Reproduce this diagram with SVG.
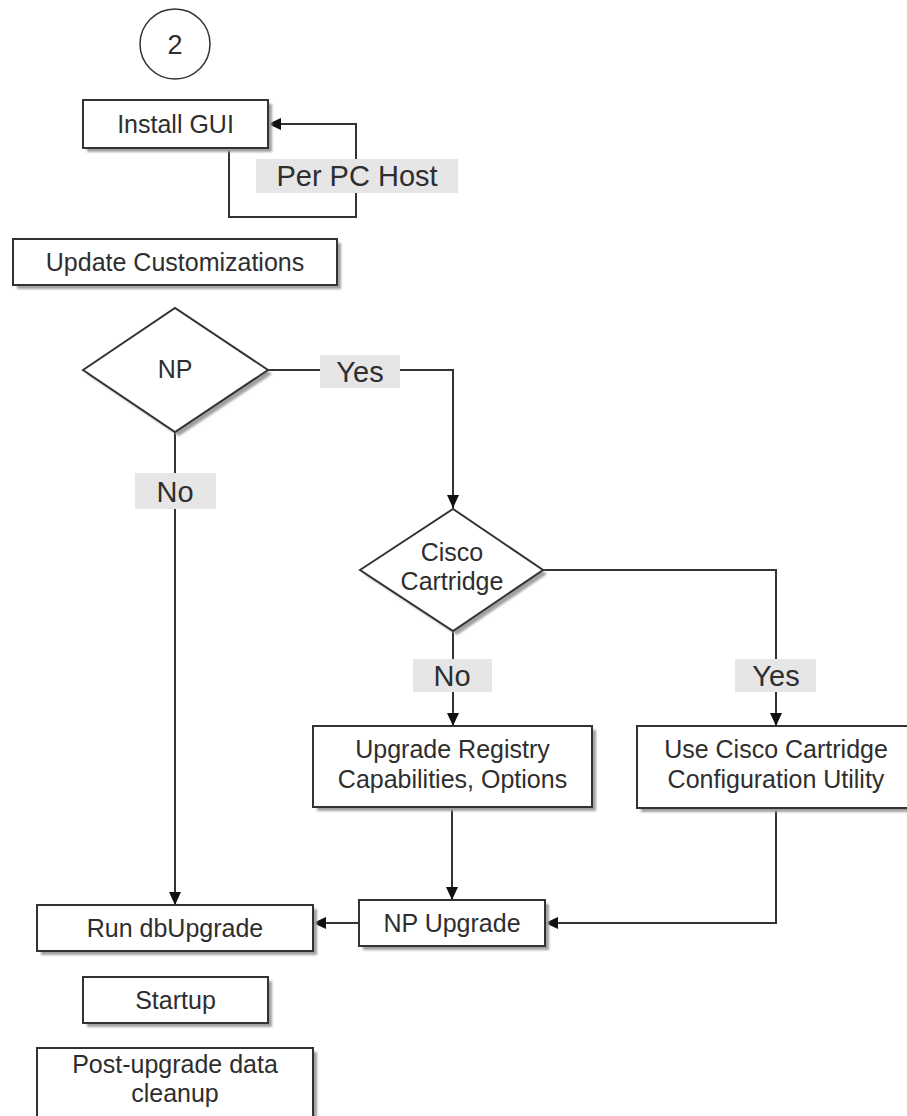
<svg xmlns="http://www.w3.org/2000/svg" width="907" height="1116" viewBox="0 0 907 1116">
<defs>
<marker id="arr" markerUnits="userSpaceOnUse" markerWidth="14" markerHeight="12" refX="13" refY="6" orient="auto">
<path d="M0,0 L13,6 L0,12 z" fill="#111"/>
</marker>
<filter id="blur" x="-10%" y="-10%" width="130%" height="130%"><feGaussianBlur stdDeviation="1.2"/></filter>
</defs>
<style>
.box{fill:#fff;stroke:#333;stroke-width:2}
.shd{fill:#a0a0a0;filter:url(#blur)}
.t{font-family:"Liberation Sans",Arial,sans-serif;font-size:25px;fill:#2e2e2e;text-anchor:middle}
.lt{font-family:"Liberation Sans",Arial,sans-serif;font-size:29px;fill:#2e2e2e;text-anchor:middle}
.lbg{fill:#e6e6e6}
.c{fill:none;stroke:#333;stroke-width:2}
</style>
<rect width="907" height="1116" fill="#fff"/>

<g id="connectors">
<path class="c" d="M229,148 V217 H356 V124 H268" marker-end="url(#arr)"/>
<path class="c" d="M268,370 H453 V508" marker-end="url(#arr)"/>
<path class="c" d="M175,432 V905" marker-end="url(#arr)"/>
<path class="c" d="M453,632 V726" marker-end="url(#arr)"/>
<path class="c" d="M543,570 H776 V726" marker-end="url(#arr)"/>
<path class="c" d="M452,807 V900" marker-end="url(#arr)"/>
<path class="c" d="M776,808 V923 H545" marker-end="url(#arr)"/>
<path class="c" d="M359,923 H313" marker-end="url(#arr)"/>
<rect class="lbg" x="256" y="159" width="202" height="34"/>
<text class="lt" x="357" y="186">Per PC Host</text>
<rect class="lbg" x="320" y="355" width="80" height="33"/>
<text class="lt" x="360" y="382">Yes</text>
<rect class="lbg" x="135" y="473" width="81" height="36"/>
<text class="lt" x="175" y="502">No</text>
<rect class="lbg" x="413" y="659" width="79" height="33"/>
<text class="lt" x="452" y="686">No</text>
<rect class="lbg" x="735" y="659" width="81" height="33"/>
<text class="lt" x="776" y="686">Yes</text>
</g>

<g id="start">
<circle cx="175" cy="44" r="35" fill="#fff" stroke="#333" stroke-width="1.5"/>
<text class="lt" x="175" y="54" style="font-size:27px">2</text>
</g>

<g id="install-gui">
<rect class="shd" x="87" y="104" width="185" height="48"/>
<rect class="box" x="83" y="100" width="185" height="48"/>
<text class="t" x="175.5" y="133">Install GUI</text>
</g>

<g id="update-customizations">
<rect class="shd" x="17" y="243" width="324" height="46"/>
<rect class="box" x="13" y="239" width="324" height="46"/>
<text class="t" x="175" y="271">Update Customizations</text>
</g>

<g id="np-decision">
<path class="shd" d="M87,374 L179,312 L272,374 L179,436 z"/>
<path class="box" d="M83,370 L175,308 L268,370 L175,432 z"/>
<text class="t" x="175" y="378">NP</text>
</g>

<g id="cisco-decision">
<path class="shd" d="M364,574 L457,513 L547,574 L457,635 z"/>
<path class="box" d="M360,570 L453,509 L543,570 L453,631 z"/>
<text class="t" x="452" y="561">Cisco</text>
<text class="t" x="452" y="590">Cartridge</text>
</g>

<g id="upgrade-registry">
<rect class="shd" x="317" y="730" width="279" height="81"/>
<rect class="box" x="313" y="726" width="279" height="81"/>
<text class="t" x="452.5" y="758">Upgrade Registry</text>
<text class="t" x="452.5" y="788">Capabilities, Options</text>
</g>

<g id="cisco-utility">
<rect class="shd" x="641" y="730" width="278" height="82"/>
<rect class="box" x="637" y="726" width="278" height="82"/>
<text class="t" x="776" y="758">Use Cisco Cartridge</text>
<text class="t" x="776" y="788">Configuration Utility</text>
</g>

<g id="np-upgrade">
<rect class="shd" x="363" y="904" width="186" height="46"/>
<rect class="box" x="359" y="900" width="186" height="46"/>
<text class="t" x="452" y="932">NP Upgrade</text>
</g>

<g id="run-dbupgrade">
<rect class="shd" x="41" y="909" width="276" height="46"/>
<rect class="box" x="37" y="905" width="276" height="46"/>
<text class="t" x="175" y="937">Run dbUpgrade</text>
</g>

<g id="startup">
<rect class="shd" x="87" y="981" width="185" height="46"/>
<rect class="box" x="83" y="977" width="185" height="46"/>
<text class="t" x="175.5" y="1009">Startup</text>
</g>

<g id="post-upgrade">
<rect class="shd" x="41" y="1052" width="276" height="86"/>
<rect class="box" x="37" y="1048" width="276" height="86"/>
<text class="t" x="175" y="1073">Post-upgrade data</text>
<text class="t" x="175" y="1102">cleanup</text>
</g>
</svg>
